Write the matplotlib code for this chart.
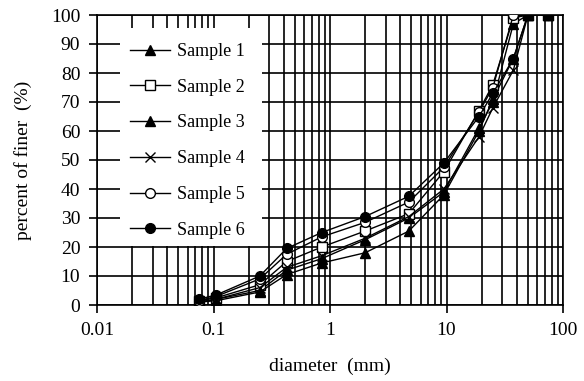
import matplotlib
matplotlib.use("Agg")
import matplotlib.pyplot as plt
from matplotlib.patches import Rectangle
import numpy as np

plt.rcParams['font.family'] = ['Liberation Serif', 'DejaVu Serif']

diameter = [0.075, 0.106, 0.25, 0.425, 0.85, 2.0, 4.75, 9.5, 19, 25, 37.5, 50, 75]
sample1 = [1.0, 2.0, 5.0, 12.0, 16.0, 22.5, 30.0, 39.0, 61.0, 70.0, 97.0, 100, 100]
sample2 = [1.5, 2.5, 7.0, 15.0, 20.0, 25.5, 31.5, 46.0, 67.0, 76.0, 99.0, 100, 100]
sample3 = [1.0, 1.5, 4.5, 10.5, 14.5, 18.0, 25.5, 38.0, 60.0, 71.0, 85.0, 100, 100]
sample4 = [1.0, 2.0, 6.0, 13.0, 17.0, 23.0, 30.5, 40.0, 58.0, 68.0, 81.0, 100, 100]
sample5 = [1.5, 3.0, 9.0, 17.5, 23.5, 28.5, 35.5, 47.5, 66.5, 75.0, 100, 100, 100]
sample6 = [2.0, 3.5, 10.0, 19.5, 25.0, 30.5, 37.5, 49.0, 65.0, 73.0, 85.0, 100, 100]
labels = ["Sample 1", "Sample 2", "Sample 3", "Sample 4", "Sample 5", "Sample 6"]
series = [sample1, sample2, sample3, sample4, sample5, sample6]
markers = [dict(marker='^', mfc='black'), dict(marker='s', mfc='white'),
           dict(marker='^', mfc='black'), dict(marker='x', mfc='black'),
           dict(marker='o', mfc='white'), dict(marker='o', mfc='black')]

fig = plt.figure(figsize=(5.84, 3.81), dpi=100)
ax = fig.add_axes([97/584, 1-305/381, (563-97)/584, (305-15)/381])
ax.set_xscale('log')
ax.set_xlim(0.01, 100)
ax.set_ylim(0, 100)
ax.set_yticks(np.arange(0, 101, 10))
ax.set_xticks([0.01, 0.1, 1, 10, 100])
ax.set_xticklabels(["0.01", "0.1", "1", "10", "100"])
ax.set_axisbelow(True)
ax.grid(True, which='both', color='black', lw=1.2)
ax.tick_params(which='major', direction='out', length=6, width=1.2, labelsize=14, pad=6)
ax.tick_params(which='minor', length=0)
for s in ax.spines.values():
    s.set_linewidth(1.2)

# white area behind the legend
ax.add_patch(Rectangle((0.0158, 20.5), 0.26 - 0.0158, 75.0, facecolor='white',
                       edgecolor='none', zorder=1))

handles = []
for lab, ys, mk in zip(labels, series, markers):
    h, = ax.plot(diameter, ys, color='black', lw=1.0, marker=mk['marker'],
                 mfc=mk['mfc'], mec='black', ms=7, mew=1.0, label=lab, zorder=3)
    handles.append(h)

leg = ax.legend(handles=handles, loc='upper left', bbox_to_anchor=(0.071, 0.904),
                frameon=False, fontsize=13, handlelength=2.2, handletextpad=0.4,
                labelspacing=1.04, borderpad=0, borderaxespad=0)

ax.set_xlabel("diameter  (mm)", fontsize=14, labelpad=14)
ax.set_ylabel("percent of finer  (%)", fontsize=14, labelpad=14)

fig.savefig("out.png", dpi=100)
